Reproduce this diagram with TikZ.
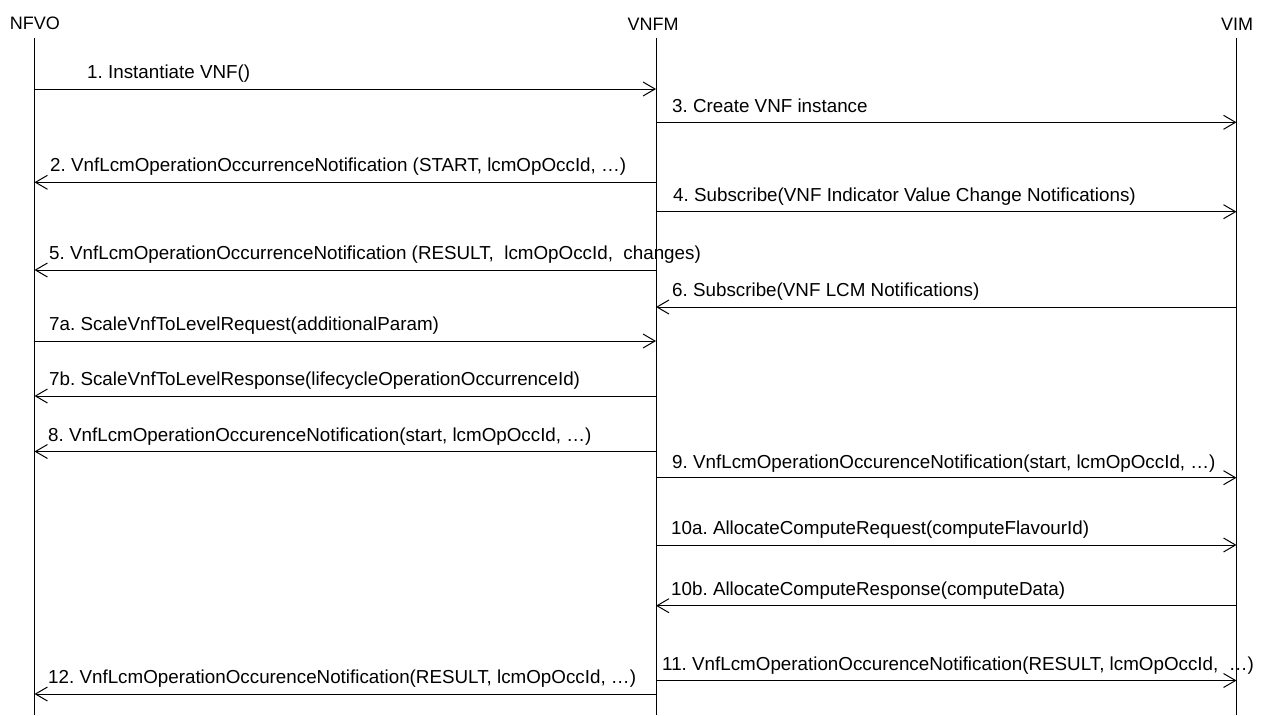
\documentclass[tikz,border=0pt]{standalone}
\usepackage{fontspec}
\setmainfont{Liberation Sans}
\usetikzlibrary{arrows.meta}
\tikzset{
  lifeline/.style={line width=1pt, black},
  msg/.style={line width=1pt, black, -{Straight Barb[length=12pt,width=14pt,line width=1pt]}},
  lbl/.style={anchor=base west, inner sep=0pt, font=\fontsize{18.8}{21}\selectfont},
  hdr/.style={anchor=base, inner sep=0pt, font=\fontsize{18}{20}\selectfont}
}
\frenchspacing
\begin{document}
\begin{tikzpicture}[x=1pt,y=-1pt]
\useasboundingbox (0,0) rectangle (1261,715);
% headers
\node[hdr] (nfvo) at (35,29) {NFVO};
\node[hdr] (vnfm) at (653,30) {VNFM};
\node[hdr] (vim) at (1237,30) {VIM};
% lifelines
\coordinate (nfvoT) at (34.5,37.5);
\coordinate (nfvoB) at (34.5,715);
\coordinate (vnfmT) at (656,37.5);
\coordinate (vnfmB) at (656,715);
\coordinate (vimT) at (1236.5,37.5);
\coordinate (vimB) at (1236.5,715);
\draw[lifeline] (nfvoT) -- (nfvoB);
\draw[lifeline] (vnfmT) -- (vnfmB);
\draw[lifeline] (vimT) -- (vimB);
% messages
\draw[msg] (nfvoT |- 0,89) -- (vnfmT |- 0,89);
\node[lbl] (m1) at (87,78.5) {1. Instantiate VNF()};
\draw[msg] (vnfmT |- 0,122.3) -- (vimT |- 0,122.3);
\node[lbl] (m3) at (672,112) {3. Create VNF instance};
\draw[msg] (vnfmT |- 0,182.3) -- (nfvoT |- 0,182.3);
\node[lbl] (m2) at (50,171.5) {2. VnfLcmOperationOccurrenceNotification (START, lcmOpOccId, …)};
\draw[msg] (vnfmT |- 0,211.7) -- (vimT |- 0,211.7);
\node[lbl] (m4) at (673,201.5) {4. Subscribe(VNF Indicator Value Change Notifications)};
\draw[msg] (vnfmT |- 0,270) -- (nfvoT |- 0,270);
\node[lbl] (m5) at (49,259) {5. VnfLcmOperationOccurrenceNotification (RESULT,\ \ lcmOpOccId,\ \ changes)};
\draw[msg] (vimT |- 0,307) -- (vnfmT |- 0,307);
\node[lbl] (m6) at (672,296.5) {6. Subscribe(VNF LCM Notifications)};
\draw[msg] (nfvoT |- 0,341) -- (vnfmT |- 0,341);
\node[lbl] (m7a) at (49,330) {7a. ScaleVnfToLevelRequest(additionalParam)};
\draw[msg] (vnfmT |- 0,396) -- (nfvoT |- 0,396);
\node[lbl] (m7b) at (49,385) {7b. ScaleVnfToLevelResponse(lifecycleOperationOccurrenceId)};
\draw[msg] (vnfmT |- 0,451.5) -- (nfvoT |- 0,451.5);
\node[lbl] (m8) at (48,441) {8. VnfLcmOperationOccurenceNotification(start, lcmOpOccId, …)};
\draw[msg] (vnfmT |- 0,477.7) -- (vimT |- 0,477.7);
\node[lbl] (m9) at (672,468) {9. VnfLcmOperationOccurenceNotification(start, lcmOpOccId, …)};
\draw[msg] (vnfmT |- 0,545) -- (vimT |- 0,545);
\node[lbl] (m10a) at (671,534.5) {10a. AllocateComputeRequest(computeFlavourId)};
\draw[msg] (vimT |- 0,605.7) -- (vnfmT |- 0,605.7);
\node[lbl] (m10b) at (671,595) {10b. AllocateComputeResponse(computeData)};
\draw[msg] (vnfmT |- 0,680.5) -- (vimT |- 0,680.5);
\node[lbl] (m11) at (662,670.5) {11. VnfLcmOperationOccurenceNotification(RESULT, lcmOpOccId,\ \ …)};
\draw[msg] (vnfmT |- 0,694) -- (nfvoT |- 0,694);
\node[lbl] (m12) at (48,683.5) {12. VnfLcmOperationOccurenceNotification(RESULT, lcmOpOccId, …)};
\end{tikzpicture}
\end{document}
